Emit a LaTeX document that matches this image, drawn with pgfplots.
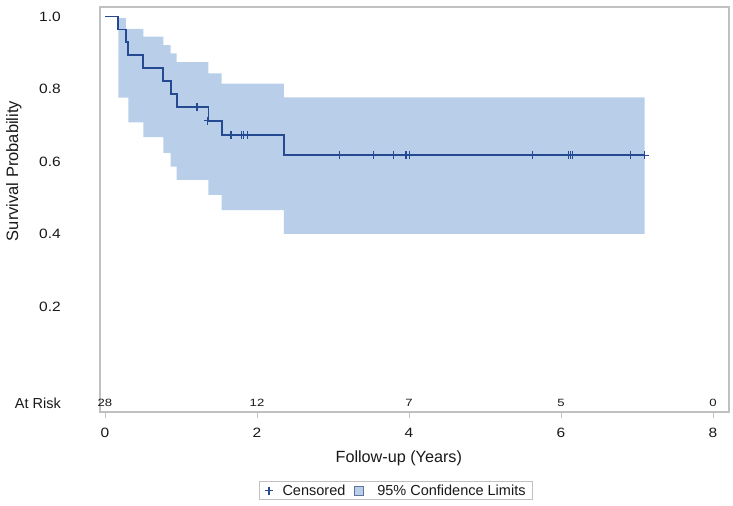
\documentclass[border=0pt]{standalone}
\usepackage{fontspec}
\setmainfont{Liberation Sans}
\newfontfamily\tickfont{Liberation Sans}[FakeStretch=1.15]
\newfontfamily\riskfont{Liberation Sans}[FakeStretch=1.25]
\usepackage{pgfplots}
\pgfplotsset{compat=1.18}
\definecolor{kmblue}{RGB}{38,74,145}
\definecolor{bandcol}{RGB}{185,206,232}
\definecolor{bandedge}{RGB}{95,115,155}
\definecolor{framegray}{RGB}{192,192,192}
\definecolor{txt}{RGB}{25,25,25}

\pgfplotstableread{
t s
0     1.000
0.175 0.964
0.276 0.929
0.307 0.893
0.504 0.857
0.767 0.821
0.864 0.786
0.943 0.750
1.360 0.7125
1.535 0.673
2.355 0.617
7.100 0.617
}\survival

\pgfplotstableread{
t s
1.21  0.750
1.35  0.7125
1.65  0.673
1.67  0.673
1.80  0.673
1.825 0.673
1.88  0.673
3.09  0.617
3.53  0.617
3.80  0.617
3.96  0.617
4.01  0.617
5.62  0.617
6.10  0.617
6.12  0.617
6.15  0.617
6.92  0.617
7.10  0.617
}\censored

\pgfplotstableread{
t y n
0 -0.066 28
2 -0.066 12
4 -0.066 7
6 -0.066 5
8 -0.066 0
}\atrisk

\begin{document}
\begin{tikzpicture}
\path[use as bounding box] (0bp,0bp) rectangle (733bp,506bp);
\begin{axis}[
  at={(100bp,94bp)}, anchor=south west,
  scale only axis, width=629bp, height=405bp,
  xmin=-0.0658, xmax=8.2105, ymin=-0.091, ymax=1.026,
  axis line style={draw=framegray, line width=1.2bp},
  tick align=outside, major tick length=6bp,
  xtick={0,2,4,6,8}, xticklabels={0,2,4,6,8},
  ytick={0.2,0.4,0.6,0.8,1.0}, yticklabels={0.2,0.4,0.6,0.8,1.0},
  xtick pos=bottom, ytick pos=left,
  xtick style={draw=framegray, line width=1bp},
  ytick style={draw=none},
  xticklabel style={font=\tickfont\fontsize{13.5bp}{15bp}\selectfont, text=txt, inner sep=0pt, anchor=center, yshift=-15bp},
  yticklabel style={font=\tickfont\fontsize{13.5bp}{15bp}\selectfont, text=txt, inner sep=0pt, anchor=east, xshift=-33bp},
  extra y ticks={-0.066}, extra y tick labels={At Risk},
  extra y tick style={yticklabel style={font=\fontsize{14.5bp}{17bp}\selectfont}},
  xlabel={Follow-up (Years)},
  ylabel={Survival Probability},
  xlabel style={at={(axis description cs:0.475,-0.1136)}, anchor=center, font=\fontsize{16.2bp}{19bp}\selectfont, text=txt},
  ylabel style={at={(axis description cs:-0.137,0.595)}, anchor=center, font=\fontsize{16.5bp}{19bp}\selectfont, text=txt},
  legend columns=2,
  legend style={at={(axis description cs:0.4706,-0.194)}, anchor=center,
    draw=framegray, line width=0.8bp, font=\fontsize{14.5bp}{17bp}\selectfont, text=txt,
    inner xsep=5bp, inner ysep=1bp,
    /tikz/column 1/.style={column sep=7bp},
    /tikz/column 2/.style={column sep=7bp},
    /tikz/column 3/.style={column sep=11bp}},
  clip=false,
]
\addplot[fill=bandcol, draw=none, forget plot] coordinates {
(0.175,0.995) (0.276,0.995) (0.276,0.966) (0.504,0.966) (0.504,0.944) (0.767,0.944)
(0.767,0.921) (0.864,0.921) (0.864,0.898) (0.943,0.898) (0.943,0.874) (1.36,0.874)
(1.36,0.843) (1.535,0.843) (1.535,0.815) (2.355,0.815) (2.355,0.777) (7.10,0.777)
(7.10,0.40) (2.355,0.40) (2.355,0.466) (1.535,0.466) (1.535,0.508) (1.36,0.508)
(1.36,0.549) (0.943,0.549) (0.943,0.586) (0.864,0.586) (0.864,0.624) (0.767,0.624)
(0.767,0.667) (0.504,0.667) (0.504,0.708) (0.307,0.708) (0.307,0.776) (0.175,0.776)
};
\addplot[const plot, draw=kmblue, line width=1.7bp, mark=none, forget plot] table[x=t,y=s] {\survival};
\addplot[only marks, mark=+, mark size=4bp, draw=kmblue, line width=1.1bp,
  legend image code/.code={\draw[kmblue, line width=1.1bp] (-4bp,0bp) -- (4bp,0bp) (0bp,-4bp) -- (0bp,4bp);}]
  table[x=t,y=s] {\censored};
\addlegendentry{Censored}
\addlegendimage{legend image code/.code={\draw[fill=bandcol, draw=bandedge, line width=0.9bp] (0bp,-4.5bp) rectangle (9bp,4.5bp);}}
\addlegendentry{95\% Confidence Limits}
\addplot[draw=none, mark=none, nodes near coords, point meta=explicit symbolic,
  nodes near coords style={anchor=center, inner sep=0pt, font=\riskfont\fontsize{10.5bp}{12bp}\selectfont, text=txt},
  forget plot] table[x=t,y=y,meta=n] {\atrisk};
\end{axis}
\end{tikzpicture}
\end{document}
